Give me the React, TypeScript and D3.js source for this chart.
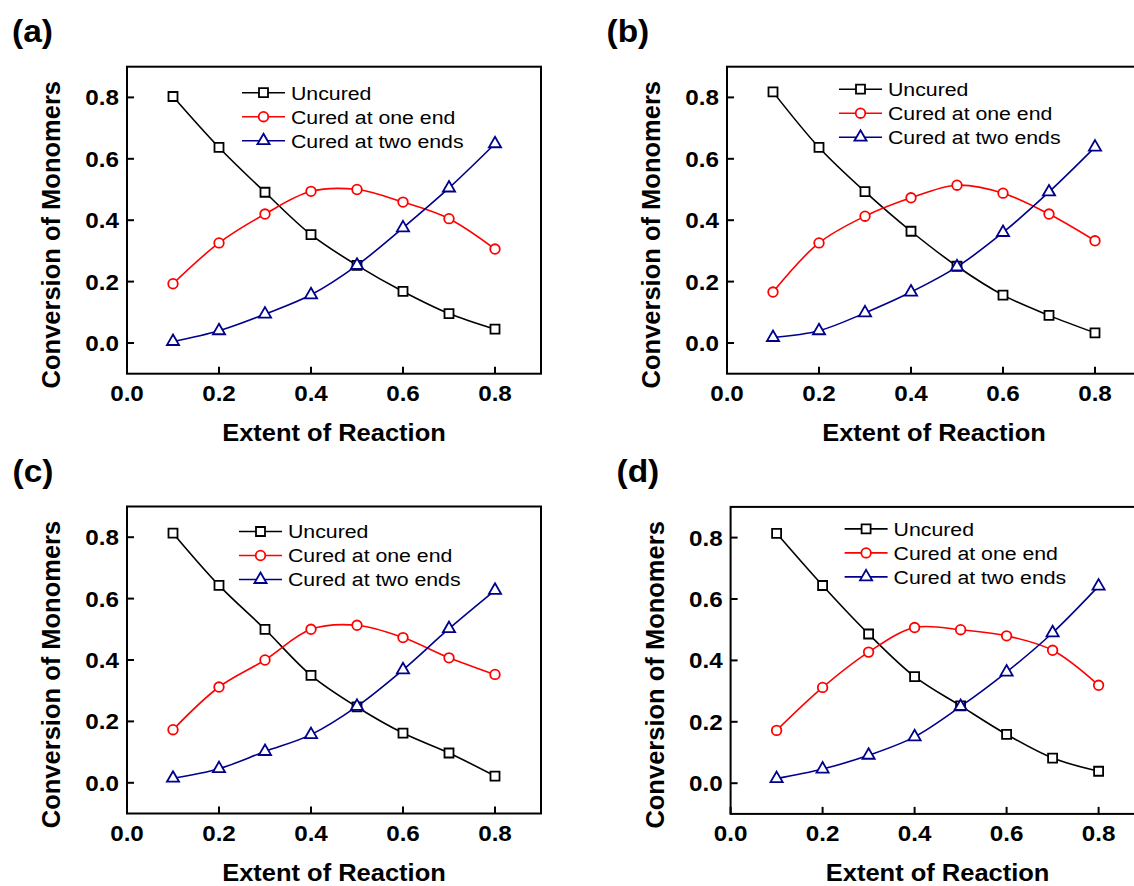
import React from "react";
import * as d3 from "d3";

// ---------- data ----------
const extent = [0.1, 0.2, 0.3, 0.4, 0.5, 0.6, 0.7, 0.8];
const xTicks = [0.0, 0.2, 0.4, 0.6, 0.8];
const yTicks = [0.0, 0.2, 0.4, 0.6, 0.8];
const seriesNames = ["Uncured", "Cured at one end", "Cured at two ends"];
const panelLabels = ["(a)", "(b)", "(c)", "(d)"];

const uncuredA = [0.803, 0.637, 0.491, 0.353, 0.253, 0.168, 0.096, 0.045];
const oneEndA = [0.193, 0.326, 0.42, 0.494, 0.5, 0.459, 0.405, 0.306];
const twoEndsA = [0.005, 0.04, 0.094, 0.157, 0.253, 0.375, 0.505, 0.649];

const uncuredB = [0.818, 0.637, 0.493, 0.364, 0.25, 0.156, 0.09, 0.033];
const oneEndB = [0.166, 0.326, 0.413, 0.473, 0.514, 0.488, 0.42, 0.333];
const twoEndsB = [0.018, 0.04, 0.098, 0.166, 0.248, 0.36, 0.492, 0.638];

const uncuredC = [0.813, 0.643, 0.5, 0.35, 0.247, 0.162, 0.097, 0.022];
const oneEndC = [0.173, 0.312, 0.4, 0.5, 0.513, 0.473, 0.407, 0.353];
const twoEndsC = [0.015, 0.046, 0.102, 0.157, 0.249, 0.368, 0.502, 0.627];

const uncuredD = [0.814, 0.644, 0.486, 0.347, 0.252, 0.159, 0.082, 0.039];
const oneEndD = [0.172, 0.312, 0.427, 0.507, 0.5, 0.48, 0.433, 0.319];
const twoEndsD = [0.015, 0.046, 0.091, 0.151, 0.25, 0.362, 0.49, 0.642];

const panelSeries = [
  [uncuredA, oneEndA, twoEndsA],
  [uncuredB, oneEndB, twoEndsB],
  [uncuredC, oneEndC, twoEndsC],
  [uncuredD, oneEndD, twoEndsD],
];

// ---------- layout / style ----------
const FONT = "'Liberation Sans', Arial, Helvetica, sans-serif";
const colors = ["#000000", "#ff0000", "#00008b"];
const symbols = [d3.symbolSquare, d3.symbolCircle, d3.symbolTriangle];
const symbolSizes = [81, 72, 64];

const FRAME_W = 414;
const FRAME_H = 307;

const layouts = [
  { left: 127, top: 66.7, labelX: 12, legendDx: 115, legendDy: 26 },
  { left: 727, top: 66.7, labelX: 606.5, legendDx: 112, legendDy: 22.5 },
  { left: 127, top: 506.5, labelX: 12.5, legendDx: 112, legendDy: 25 },
  { left: 730.6, top: 506.9, labelX: 616.5, legendDx: 114, legendDy: 22 },
];

function STxt({
  x,
  y,
  sx = 1,
  anchor = "start",
  size,
  bold = false,
  dy,
  rotate = 0,
  children,
}: any) {
  return (
    <text
      transform={`translate(${x},${y}) rotate(${rotate}) scale(${sx},1)`}
      textAnchor={anchor}
      dy={dy}
      fontFamily={FONT}
      fontWeight={bold ? "bold" : "normal"}
      fontSize={size}
      fill="#000"
    >
      {children}
    </text>
  );
}

function Panel({ idx }: { idx: number }) {
  const L = layouts[idx];
  const x = d3.scaleLinear().domain([0, 0.9]).range([L.left, L.left + FRAME_W]);
  const y = d3.scaleLinear().domain([-0.1, 0.9]).range([L.top + FRAME_H, L.top]);
  const line = d3
    .line<number>()
    .x((_, i) => x(extent[i]))
    .y((d) => y(d))
    .curve(d3.curveCatmullRom.alpha(0.5));
  const bottom = L.top + FRAME_H;
  const series = panelSeries[idx];

  return (
    <g>
      <STxt x={L.labelX} y={L.top - 24.5} sx={1.08} size={31} bold>
        {panelLabels[idx]}
      </STxt>

      {/* series */}
      {series.map((vals, s) => (
        <g key={s}>
          <path d={line(vals) || ""} fill="none" stroke={colors[s]} strokeWidth={1.6} />
          {vals.map((v, i) => (
            <path
              key={i}
              d={d3.symbol().type(symbols[s]).size(symbolSizes[s])() || ""}
              transform={`translate(${x(extent[i])},${y(v)})`}
              fill="#fff"
              stroke={colors[s]}
              strokeWidth={1.8}
            />
          ))}
        </g>
      ))}

      {/* frame */}
      <rect
        x={L.left}
        y={L.top}
        width={FRAME_W}
        height={FRAME_H}
        fill="none"
        stroke="#000"
        strokeWidth={2}
      />

      {/* y ticks */}
      {yTicks.map((t) => (
        <g key={"y" + t}>
          <line x1={L.left} x2={L.left + 7} y1={y(t)} y2={y(t)} stroke="#000" strokeWidth={2} />
          <STxt x={L.left - 8} y={y(t)} dy="0.36em" anchor="end" sx={1.1} size={22} bold>
            {t.toFixed(1)}
          </STxt>
        </g>
      ))}

      {/* x ticks */}
      {xTicks.map((t) => (
        <g key={"x" + t}>
          <line x1={x(t)} x2={x(t)} y1={bottom} y2={bottom - 7} stroke="#000" strokeWidth={2} />
          <STxt x={x(t)} y={bottom + 27} anchor="middle" sx={1.1} size={22} bold>
            {t.toFixed(1)}
          </STxt>
        </g>
      ))}

      {/* axis titles */}
      <STxt x={L.left + FRAME_W / 2} y={bottom + 67} anchor="middle" sx={1.04} size={24.5} bold>
        Extent of Reaction
      </STxt>
      <STxt x={L.left - 67} y={L.top + 168} anchor="middle" rotate={-90} size={25.5} bold>
        Conversion of Monomers
      </STxt>

      {/* legend */}
      {seriesNames.map((name, s) => {
        const lx = L.left + L.legendDx;
        const ly = L.top + L.legendDy + s * 24;
        return (
          <g key={name}>
            <line x1={lx} x2={lx + 43} y1={ly} y2={ly} stroke={colors[s]} strokeWidth={1.6} />
            <path
              d={d3.symbol().type(symbols[s]).size(symbolSizes[s])() || ""}
              transform={`translate(${lx + 21.5},${ly})`}
              fill="#fff"
              stroke={colors[s]}
              strokeWidth={1.8}
            />
            <STxt x={lx + 49} y={ly} dy="0.36em" sx={1.12} size={19}>
              {name}
            </STxt>
          </g>
        );
      })}
    </g>
  );
}

export default function App() {
  return (
    <svg
      width={1134}
      height={886}
      viewBox="0 0 1134 886"
      style={{ position: "absolute", left: 0, top: 0, background: "#fff" }}
    >
      <rect x={0} y={0} width={1134} height={886} fill="#fff" />
      {[0, 1, 2, 3].map((i) => (
        <Panel key={i} idx={i} />
      ))}
    </svg>
  );
}
